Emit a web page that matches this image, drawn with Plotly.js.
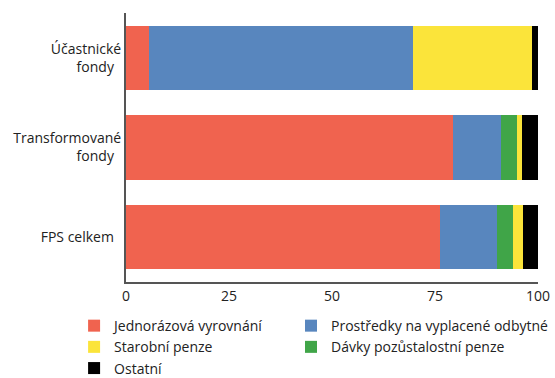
<!DOCTYPE html>
<html><head><meta charset="utf-8">
<script src="https://cdn.plot.ly/plotly-3.0.1.min.js"></script>
<style>html,body{margin:0;padding:0;background:#fff}#chart{width:555px;height:378px}</style>
</head><body><div id="chart"></div>
<script>
const categories = ["FPS celkem", "Transformované<br>fondy", "Účastnické<br>fondy"];
const jednorazova = [76.2, 79.4, 5.6];
const prostredky = [13.8, 11.6, 64.0];
const davky = [3.9, 3.9, 0];
const starobni = [2.5, 1.2, 28.9];
const ostatni = [3.6, 3.9, 1.5];

const seriesNames = ["Jednorázová vyrovnání", "Prostředky na vyplacené odbytné", "Dávky pozůstalostní penze", "Starobní penze", "Ostatní"];
const seriesValues = [jednorazova, prostredky, davky, starobni, ostatni];
const colors = ["#F0634F", "#5886BE", "#40A548", "#FBE43A", "#000000"];
const ranks = [1, 1, 2, 2, 3];
const legendIds = ["legend", "legend2", "legend2", "legend", "legend"];

const traces = seriesNames.map((n, i) => ({
  type: 'bar', orientation: 'h', name: n,
  y: categories, x: seriesValues[i],
  marker: {color: colors[i], line: {width: 0}},
  legend: legendIds[i], legendrank: ranks[i], hoverinfo: 'x+name'
}));

const font = {family: 'Open Sans, sans-serif', size: 14, color: '#222'};
const legendBase = {orientation: 'v', xanchor: 'left',
  y: -0.1043, yanchor: 'top', traceorder: 'normal', font: font, tracegroupgap: 0, bgcolor: 'rgba(0,0,0,0)'};
const layout = {
  width: 555, height: 378,
  margin: {l: 126, r: 17, t: 13, b: 96, autoexpand: false},
  barmode: 'stack', bargap: 0.28,
  font: font,
  showlegend: true,
  xaxis: {range: [0, 100], tickvals: [0, 25, 50, 75, 100], showgrid: false, zeroline: false,
    showline: true, linecolor: '#555', linewidth: 2, ticks: '', fixedrange: true},
  yaxis: {showgrid: false, zeroline: false, showline: true, linecolor: '#555', linewidth: 2,
    ticks: '', ticksuffix: '  ', fixedrange: true, range: [-0.5, 2.5]},
  legend: Object.assign({}, legendBase, {x: -0.126}),
  legend2: Object.assign({}, legendBase, {x: 0.4005}),
  paper_bgcolor: '#fff', plot_bgcolor: '#fff'
};
Plotly.newPlot('chart', traces, layout, {displayModeBar: false, staticPlot: true});
</script></body></html>
